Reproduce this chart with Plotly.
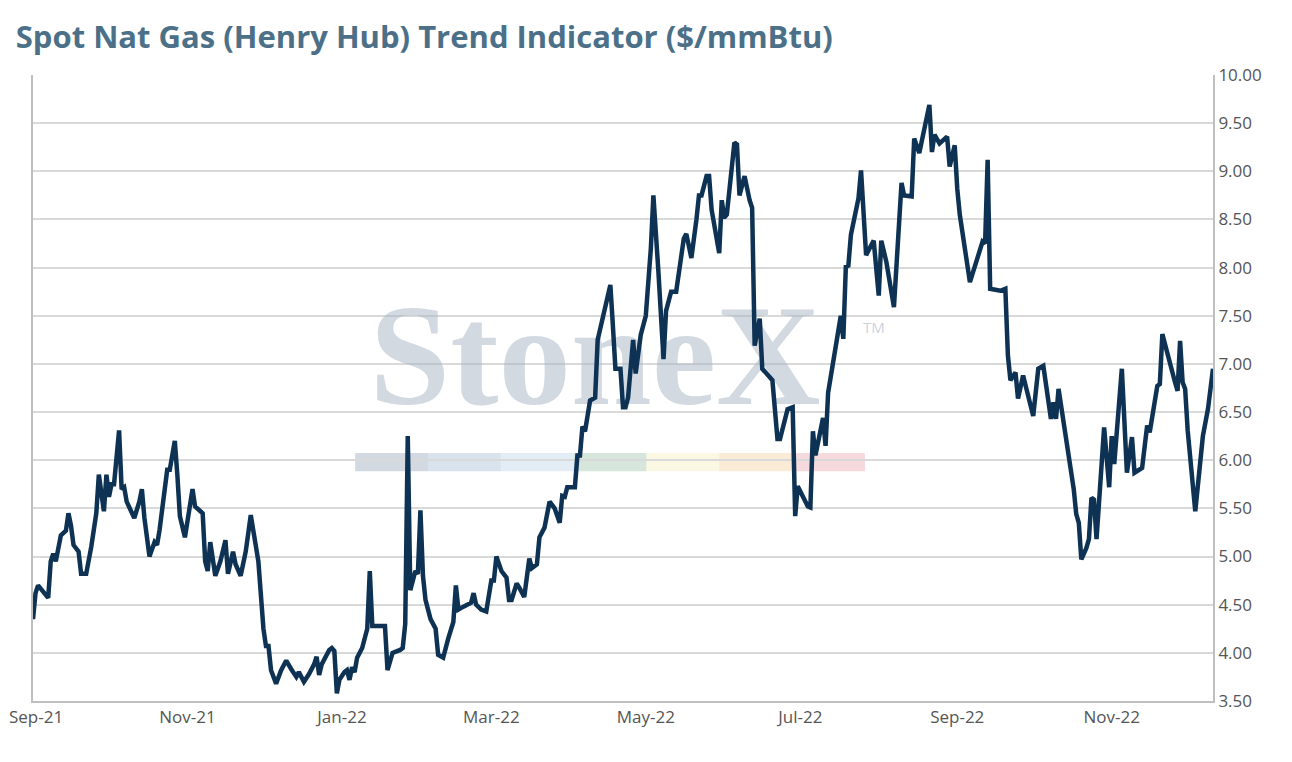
import pandas as pd
import plotly.graph_objects as go

start_date = "2021-09-01"
day_offset = [0,1,2,4,6,7,8,9,11,13,14,15,16,18,19,21,23,25,26,28,29,30,31,32,34,35,36,37,40,42,43,44,46,48,49,50,52,53,54,56,57,58,60,62,63,64,66,67,68,69,70,72,74,76,77,79,80,82,84,86,89,90,91,92,93,94,96,98,100,102,104,105,106,107,109,111,112,113,114,117,118,119,120,121,123,124,125,126,127,128,130,132,133,134,136,139,140,142,145,146,147,148,149,150,151,152,153,154,155,157,159,160,162,164,166,167,168,170,173,174,175,177,179,181,182,183,185,187,188,189,191,192,194,196,197,199,200,202,204,206,208,209,210,211,214,215,216,217,218,220,222,223,226,228,229,230,232,233,234,235,237,238,240,242,244,245,247,248,249,250,252,254,255,257,258,260,262,263,264,266,267,268,271,272,273,274,277,278,279,281,283,284,285,287,288,292,294,295,298,300,301,302,306,307,308,309,312,313,314,316,319,320,321,322,323,326,327,329,332,334,335,337,340,343,344,347,348,350,354,355,356,358,361,362,364,365,366,370,375,376,377,378,382,384,385,386,388,389,391,395,397,399,400,402,403,404,405,407,409,411,412,413,414,416,417,418,419,420,423,425,426,427,430,432,434,435,438,440,441,444,445,446,451,452,453,454,455,456,459,462,464,466]
price = [4.35,4.62,4.70,4.63,4.57,4.95,5.03,4.95,5.22,5.27,5.45,5.32,5.12,5.05,4.82,4.82,5.10,5.45,5.85,5.47,5.85,5.62,5.75,5.75,6.31,5.70,5.72,5.57,5.40,5.57,5.70,5.40,5.00,5.15,5.12,5.28,5.70,5.90,5.90,6.20,5.85,5.42,5.20,5.58,5.70,5.52,5.47,5.45,4.95,4.85,5.15,4.80,4.95,5.17,4.82,5.05,4.92,4.80,5.05,5.43,4.95,4.60,4.25,4.07,4.07,3.82,3.68,3.82,3.92,3.83,3.75,3.80,3.75,3.70,3.78,3.88,3.96,3.77,3.88,4.03,4.05,4.02,3.58,3.72,3.80,3.82,3.72,3.85,3.80,3.95,4.05,4.25,4.85,4.28,4.28,4.28,3.82,4.00,4.03,4.05,4.30,6.25,4.65,4.75,4.85,4.82,5.48,4.80,4.55,4.35,4.25,3.98,3.95,4.15,4.32,4.70,4.45,4.48,4.52,4.62,4.50,4.45,4.43,4.75,4.75,5.00,4.85,4.78,4.55,4.55,4.72,4.68,4.58,4.98,4.88,4.92,5.20,5.30,5.57,5.50,5.35,5.63,5.62,5.72,5.72,6.05,6.05,6.35,6.30,6.62,6.65,7.25,7.60,7.82,7.40,6.95,6.95,6.55,6.55,6.65,7.25,6.90,7.30,7.50,8.20,8.75,7.95,7.45,7.05,7.55,7.75,7.75,7.95,8.30,8.35,8.10,8.50,8.75,8.75,8.95,8.95,8.60,8.15,8.70,8.52,8.55,9.30,9.28,8.75,8.95,8.70,8.62,7.19,7.47,6.95,6.83,6.22,6.22,6.53,6.55,5.42,5.73,5.52,5.51,6.30,6.05,6.44,6.15,6.70,7.05,7.50,7.26,8.01,8.02,8.34,8.72,9.01,8.13,8.28,7.71,8.28,8.06,7.59,8.88,8.75,8.74,9.34,9.19,9.69,9.20,9.38,9.29,9.36,9.05,9.27,8.82,8.55,7.85,8.27,8.25,9.12,7.78,7.76,7.78,7.09,6.83,6.91,6.64,6.88,6.46,6.95,6.98,6.77,6.43,6.60,6.43,6.74,6.39,6.11,5.70,5.44,5.35,4.97,5.09,5.18,5.61,5.59,5.18,6.34,5.72,6.25,5.96,6.95,5.87,6.24,5.87,5.92,6.36,6.29,6.77,6.79,7.31,6.81,6.72,7.24,6.81,6.74,6.31,5.47,6.25,6.53,6.95]
y_ticks = [3.5 + 0.5 * i for i in range(14)]
first_tick = "2021-09-01"
first_tick_label = "Sep-21"
watermark_text = "StoneX"
watermark_anchor = ("2022-04-11", 6.96)

dates = pd.to_datetime(start_date) + pd.to_timedelta(day_offset, unit="D")

fig = go.Figure()
# watermark drawn underneath the series
fig.add_trace(go.Scatter(x=[watermark_anchor[0]], y=[watermark_anchor[1]], mode="text",
                         text=[watermark_text], textposition="middle center", hoverinfo="skip",
                         textfont=dict(family="Liberation Serif", size=145,
                                       color="rgba(165,180,195,0.5)", weight="bold"),
                         showlegend=False, cliponaxis=False))
fig.add_trace(go.Scatter(x=dates, y=price, mode="lines",
                         line=dict(color="#0d3253", width=4.5), showlegend=False))

fig.add_annotation(xref="paper", yref="paper", x=0.724, y=0.598, text="TM",
                   showarrow=False, font=dict(family="Open Sans", size=15, color="rgba(165,180,195,0.6)"))
bar_cols = ["rgba(165,180,195,0.5)","rgba(180,200,220,0.5)","rgba(200,220,235,0.5)",
            "rgba(175,205,185,0.5)","rgba(245,240,200,0.5)","rgba(245,215,175,0.5)","rgba(235,180,185,0.5)"]
x0 = 0.273
w = (0.705 - 0.273) / 7
for i, c in enumerate(bar_cols):
    fig.add_shape(type="rect", xref="paper", yref="paper", x0=x0 + i * w, x1=x0 + (i + 1) * w,
                  y0=0.367, y1=0.396, fillcolor=c, line=dict(width=0), layer="below")

fig.add_annotation(xref="x", yref="paper", x=first_tick, y=0, yshift=-29, xshift=-26,
                   xanchor="left", text=first_tick_label,
                   showarrow=False, font=dict(family="Open Sans", size=17, color="#555555"))

fig.update_layout(
    width=1292, height=762,
    margin=dict(l=25, r=87, t=67, b=69),
    plot_bgcolor="white", paper_bgcolor="white",
    font=dict(family="Open Sans", size=17, color="#555555"),
    title=dict(text="Spot Nat Gas (Henry Hub) Trend Indicator ($/mmBtu)", x=0.006, y=0.962,
               xanchor="left", yanchor="middle",
               font=dict(family="Open Sans", size=31, color="#4b7088", weight="bold")),
)
fig.update_xaxes(range=["2021-09-01", "2022-12-11"], dtick="M2", tick0="2021-09-01",
                 tickformat="%b-%y", showgrid=False, showline=True, linecolor="#bfbfbf",
                 linewidth=2, mirror=False, ticks="", automargin=False,
                 tickfont=dict(size=17, color="#555555"))
fig.update_yaxes(range=[3.5, 10], tickvals=y_ticks, tickformat=".2f", side="right",
                 showgrid=True, gridcolor="#d9d9d9", gridwidth=2, showline=True,
                 linecolor="#bfbfbf", linewidth=2, mirror=True, zeroline=False, automargin=False,
                 tickfont=dict(size=17, color="#555555"))
fig.write_html("out.html")
